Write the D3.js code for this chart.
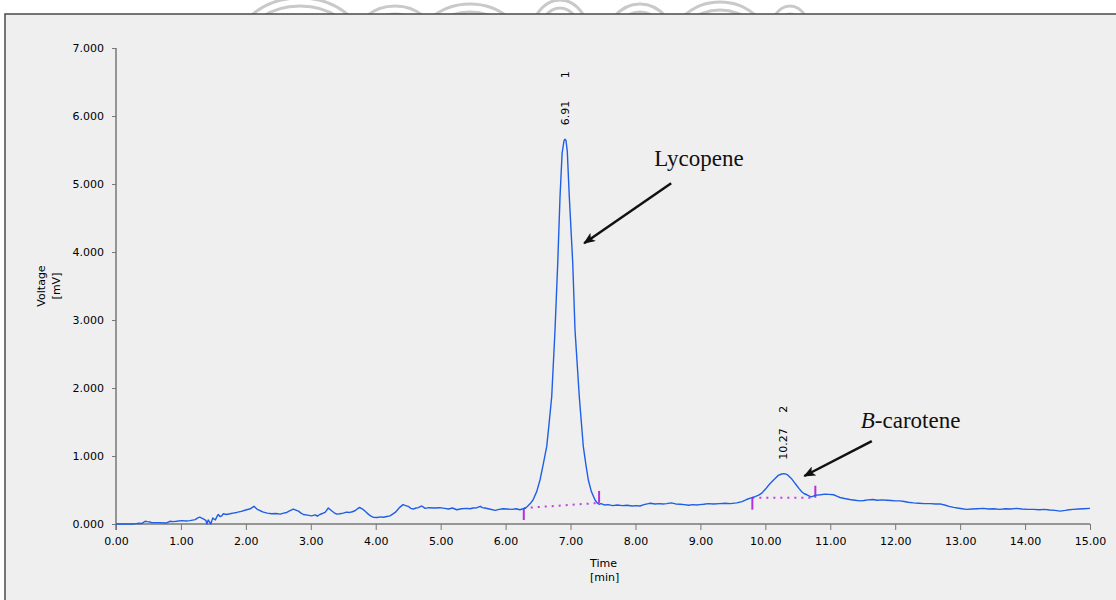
<!DOCTYPE html>
<html>
<head>
<meta charset="utf-8">
<script src="https://cdn.jsdelivr.net/npm/d3@7"></script>
<style>
  body { margin: 0; background: #fff; }
  svg { display: block; }
</style>
</head>
<body>
<svg id="chart"></svg>
<script>
// chromatogram values: time in min, voltage in mV
const times = [0.00, 0.27, 0.30, 0.34, 0.40, 0.45, 0.48, 0.52, 0.55, 0.65, 0.78, 0.83, 0.88, 0.93, 1.01, 1.08, 1.14, 1.22, 1.26, 1.29,
  1.32, 1.345, 1.37, 1.386, 1.40, 1.42, 1.44, 1.46, 1.49, 1.51, 1.53, 1.56, 1.576, 1.60, 1.63, 1.65, 1.70, 1.756, 1.80, 1.86,
  1.93, 2.01, 2.06, 2.125, 2.17, 2.22, 2.27, 2.33, 2.40, 2.46, 2.53, 2.58, 2.63, 2.68, 2.73, 2.77, 2.81, 2.85, 2.885, 2.95,
  3.01, 3.07, 3.10, 3.14, 3.22, 3.27, 3.32, 3.36, 3.40, 3.45, 3.50, 3.55, 3.60, 3.64, 3.68, 3.75, 3.81, 3.85, 3.885, 3.92,
  3.96, 4.02, 4.08, 4.12, 4.17, 4.22, 4.30, 4.37, 4.42, 4.46, 4.50, 4.54, 4.58, 4.62, 4.655, 4.71, 4.76, 4.82, 4.90, 4.99,
  5.06, 5.12, 5.18, 5.25, 5.32, 5.40, 5.45, 5.50, 5.56, 5.61, 5.64, 5.68, 5.75, 5.84, 5.90, 5.96, 6.02, 6.10, 6.16, 6.22,
  6.26, 6.30, 6.33, 6.38, 6.422, 6.48, 6.53, 6.58, 6.633, 6.67, 6.71, 6.761, 6.803, 6.838, 6.87, 6.90, 6.915, 6.93, 6.95, 6.981,
  7.034, 7.069, 7.135, 7.197, 7.24, 7.274, 7.32, 7.377, 7.41, 7.439, 7.47, 7.52, 7.58, 7.65, 7.72, 7.80, 7.87, 7.95, 8.02, 8.07,
  8.13, 8.20, 8.23, 8.30, 8.37, 8.42, 8.48, 8.55, 8.62, 8.69, 8.75, 8.82, 8.88, 8.94, 8.99, 9.05, 9.12, 9.20, 9.30, 9.38,
  9.46, 9.56, 9.64, 9.71, 9.78, 9.83, 9.89, 9.94, 10.00, 10.05, 10.10, 10.15, 10.20, 10.25, 10.29, 10.34, 10.40, 10.44, 10.48, 10.52,
  10.56, 10.60, 10.64, 10.68, 10.71, 10.75, 10.79, 10.85, 10.92, 10.98, 11.05, 11.10, 11.15, 11.22, 11.30, 11.38, 11.46, 11.52, 11.58, 11.66,
  11.72, 11.80, 11.87, 11.94, 12.00, 12.07, 12.14, 12.20, 12.28, 12.36, 12.45, 12.54, 12.62, 12.69, 12.76, 12.83, 12.90, 12.96, 13.03, 13.10,
  13.18, 13.26, 13.36, 13.44, 13.52, 13.61, 13.70, 13.78, 13.87, 13.95, 14.04, 14.13, 14.22, 14.30, 14.38, 14.46, 14.54, 14.62, 14.68, 14.74,
  14.82, 14.90, 15.00]
const volts = [0.000, 0.000, 0.005, 0.010, 0.008, 0.040, 0.035, 0.030, 0.020, 0.020, 0.015, 0.040, 0.035, 0.040, 0.050, 0.045, 0.050, 0.065, 0.090, 0.100,
  0.085, 0.075, 0.060, 0.050, 0.000, 0.060, 0.030, 0.000, 0.090, 0.070, 0.060, 0.120, 0.140, 0.110, 0.120, 0.150, 0.140, 0.150, 0.160, 0.170,
  0.185, 0.210, 0.220, 0.260, 0.220, 0.195, 0.175, 0.160, 0.150, 0.155, 0.145, 0.160, 0.170, 0.195, 0.220, 0.205, 0.190, 0.160, 0.140, 0.130,
  0.120, 0.135, 0.115, 0.140, 0.170, 0.235, 0.195, 0.165, 0.145, 0.150, 0.160, 0.175, 0.170, 0.180, 0.195, 0.245, 0.210, 0.175, 0.145, 0.120,
  0.100, 0.095, 0.105, 0.100, 0.110, 0.120, 0.170, 0.245, 0.285, 0.270, 0.260, 0.230, 0.220, 0.235, 0.240, 0.265, 0.230, 0.240, 0.235, 0.240,
  0.230, 0.220, 0.235, 0.210, 0.225, 0.230, 0.225, 0.235, 0.240, 0.260, 0.240, 0.235, 0.220, 0.200, 0.215, 0.225, 0.220, 0.215, 0.225, 0.210,
  0.220, 0.230, 0.254, 0.300, 0.353, 0.480, 0.647, 0.880, 1.137, 1.480, 1.872, 2.853, 3.838, 4.813, 5.450, 5.640, 5.657, 5.640, 5.480, 4.813,
  3.838, 2.853, 1.872, 1.137, 0.850, 0.647, 0.480, 0.353, 0.310, 0.290, 0.300, 0.280, 0.285, 0.270, 0.280, 0.270, 0.275, 0.265, 0.270, 0.265,
  0.285, 0.300, 0.305, 0.295, 0.300, 0.295, 0.300, 0.310, 0.295, 0.290, 0.285, 0.275, 0.285, 0.280, 0.285, 0.290, 0.300, 0.295, 0.300, 0.305,
  0.300, 0.310, 0.330, 0.360, 0.385, 0.400, 0.420, 0.450, 0.510, 0.570, 0.620, 0.670, 0.715, 0.735, 0.740, 0.725, 0.670, 0.620, 0.570, 0.520,
  0.475, 0.445, 0.430, 0.410, 0.400, 0.415, 0.425, 0.430, 0.440, 0.435, 0.430, 0.410, 0.390, 0.375, 0.360, 0.350, 0.340, 0.345, 0.355, 0.360,
  0.350, 0.355, 0.350, 0.345, 0.340, 0.340, 0.330, 0.320, 0.310, 0.305, 0.300, 0.300, 0.295, 0.295, 0.280, 0.260, 0.245, 0.235, 0.225, 0.215,
  0.220, 0.225, 0.230, 0.220, 0.225, 0.215, 0.225, 0.220, 0.230, 0.220, 0.215, 0.215, 0.210, 0.215, 0.205, 0.200, 0.190, 0.200, 0.210, 0.215,
  0.220, 0.225, 0.230]

// peaks: number, retention time label, integration baseline start/end
const peakNumbers = ['1', '2']
const peakTimes = [6.91, 10.27]
const peakLabels = ['6.91', '10.27']
const baseStart = [[6.28, 0.235], [9.80, 0.387]]
const baseEnd = [[7.44, 0.31], [10.77, 0.387]]

// annotations [label, text anchor time/mV, arrow tail, arrow head]
const compoundNames = ['Lycopene', 'B-carotene']
const compoundText = [[8.29, 5.27], [11.47, 1.41]]
const arrowTail = [[8.55, 5.01], [11.64, 1.22]]
const arrowHead = [[7.21, 4.13], [10.60, 0.706]]

const xTicks = d3.range(0, 15.01, 1)
const yTicks = d3.range(0, 7.01, 1)

let W = 1116, H = 600
let margin = { top: 48, right: 26, bottom: 76, left: 116 },
  width = W - margin.left - margin.right,
  height = H - margin.top - margin.bottom

var svg = d3.select('#chart').attr('width', W).attr('height', H)

// watermark remnants above the panel
let wm = svg.append('g')
  .attr('fill', 'none')
  .attr('stroke', '#c9c9c9')
  .attr('stroke-width', 3)
let wmShapes = [[300, 44, 62, 46], [395, 40, 40, 34], [470, 52, 55, 48], [560, 40, 30, 40], [640, 46, 36, 42], [720, 52, 52, 50], [790, 40, 22, 34]]
wmShapes.forEach(function (s) {
  wm.append('ellipse').attr('cx', s[0]).attr('cy', s[1]).attr('rx', s[2]).attr('ry', s[3])
  wm.append('ellipse').attr('cx', s[0]).attr('cy', s[1]).attr('rx', s[2] - 8).attr('ry', s[3] - 8)
})

// grey panel
svg.append('rect')
  .attr('x', 5).attr('y', 14)
  .attr('width', W + 20).attr('height', H + 20)
  .attr('fill', '#efefef')
  .attr('stroke', '#4a4a4a')
  .attr('stroke-width', 1.5)

let g = svg.append('g').attr('transform', `translate(${margin.left}, ${margin.top})`)

let x = d3.scaleLinear().domain([0, 15]).range([0, width])
let y = d3.scaleLinear().domain([0, 7]).range([height, 0])

const font = 'Tahoma, "DejaVu Sans", sans-serif'

// y axis
let yAxis = g.append('g')
  .call(d3.axisLeft(y).tickValues(yTicks).tickFormat(d3.format('.3f')).tickSize(4).tickSizeOuter(0).tickPadding(8))
yAxis.select('.domain').remove()
yAxis.selectAll('line').attr('stroke', '#777')
yAxis.selectAll('text').style('font-family', font).style('font-size', '11px').style('fill', '#000')
g.append('line').attr('x1', 0).attr('x2', 0).attr('y1', 0).attr('y2', height + 6)
  .attr('stroke', '#777').attr('stroke-width', 1.5)

// x axis
let xAxis = g.append('g')
  .attr('transform', `translate(0, ${height})`)
  .call(d3.axisBottom(x).tickValues(xTicks).tickFormat(d3.format('.2f')).tickSize(6).tickSizeOuter(0).tickPadding(7))
xAxis.select('.domain').remove()
xAxis.selectAll('line').attr('stroke', '#777')
xAxis.selectAll('text').style('font-family', font).style('font-size', '11px').style('fill', '#000')
g.append('line').attr('x1', 0).attr('x2', width).attr('y1', height).attr('y2', height)
  .attr('stroke', '#777').attr('stroke-width', 1.5)

// axis titles
let yTitle = g.append('text')
  .attr('transform', `translate(-71, ${y(3.5)}) rotate(-90)`)
  .attr('text-anchor', 'middle')
  .style('font-family', font).style('font-size', '11px').style('fill', '#000')
yTitle.append('tspan').attr('x', 0).attr('dy', 0).text('Voltage')
yTitle.append('tspan').attr('x', 0).attr('dy', 15).text('[mV]')

let xTitle = g.append('text')
  .attr('transform', `translate(${x(7.3)}, ${height + 43})`)
  .style('font-family', font).style('font-size', '11px').style('fill', '#000')
xTitle.append('tspan').attr('x', 0).attr('dy', 0).text('Time')
xTitle.append('tspan').attr('x', 0).attr('dy', 14).text('[min]')

// integration baselines
peakTimes.forEach(function (p, i) {
  g.append('line')
    .attr('x1', x(baseStart[i][0])).attr('y1', y(baseStart[i][1]))
    .attr('x2', x(baseEnd[i][0])).attr('y2', y(baseEnd[i][1]))
    .attr('stroke', '#c23de8').attr('stroke-width', 2)
    .attr('stroke-dasharray', '2,5')
  g.append('line')
    .attr('x1', x(baseStart[i][0])).attr('x2', x(baseStart[i][0]))
    .attr('y1', y(baseStart[i][1])).attr('y2', y(baseStart[i][1]) + 12)
    .attr('stroke', '#b52fe0').attr('stroke-width', 2)
  g.append('line')
    .attr('x1', x(baseEnd[i][0])).attr('x2', x(baseEnd[i][0]))
    .attr('y1', y(baseEnd[i][1])).attr('y2', y(baseEnd[i][1]) - 12)
    .attr('stroke', '#b52fe0').attr('stroke-width', 2)
})

// signal
let line = d3.line()
  .x(function (d) { return x(d[0]) })
  .y(function (d) { return y(d[1]) })
g.append('path')
  .datum(times.map(function (t, i) { return [t, volts[i]] }))
  .attr('fill', 'none')
  .attr('stroke', '#1f5fe6')
  .attr('stroke-width', 1.4)
  .attr('stroke-linejoin', 'round')
  .attr('d', line)

// peak labels, rotated
let peakTop = [5.657, 0.740]
peakTimes.forEach(function (p, i) {
  g.append('text')
    .attr('transform', `translate(${x(p) + 4}, ${y(peakTop[i]) - 14}) rotate(-90)`)
    .style('font-family', font).style('font-size', '11px').style('fill', '#000')
    .text(peakLabels[i])
  g.append('text')
    .attr('transform', `translate(${x(p) + 4}, ${y(peakTop[i]) - 61}) rotate(-90)`)
    .style('font-family', font).style('font-size', '11px').style('fill', '#000')
    .text(peakNumbers[i])
})

// arrows + compound names
svg.append('defs').append('marker')
  .attr('id', 'arrow')
  .attr('viewBox', '0 0 12 10')
  .attr('refX', 11).attr('refY', 5)
  .attr('markerWidth', 12).attr('markerHeight', 10)
  .attr('markerUnits', 'userSpaceOnUse')
  .attr('orient', 'auto')
  .append('path')
  .attr('d', 'M0,0 L12,5 L0,10 L3,5 Z')
  .attr('fill', '#111')

compoundNames.forEach(function (name, i) {
  g.append('line')
    .attr('x1', x(arrowTail[i][0])).attr('y1', y(arrowTail[i][1]))
    .attr('x2', x(arrowHead[i][0])).attr('y2', y(arrowHead[i][1]))
    .attr('stroke', '#111').attr('stroke-width', 2.5)
    .attr('marker-end', 'url(#arrow)')
  let t = g.append('text')
    .attr('x', x(compoundText[i][0])).attr('y', y(compoundText[i][1]))
    .style('font-family', '"Liberation Serif", "Times New Roman", serif')
    .style('font-size', '23px').style('fill', '#111')
  if (name.startsWith('B-')) {
    t.append('tspan').style('font-style', 'italic').text('B')
    t.append('tspan').text(name.slice(1))
  } else {
    t.text(name)
  }
})
</script>
</body>
</html>
